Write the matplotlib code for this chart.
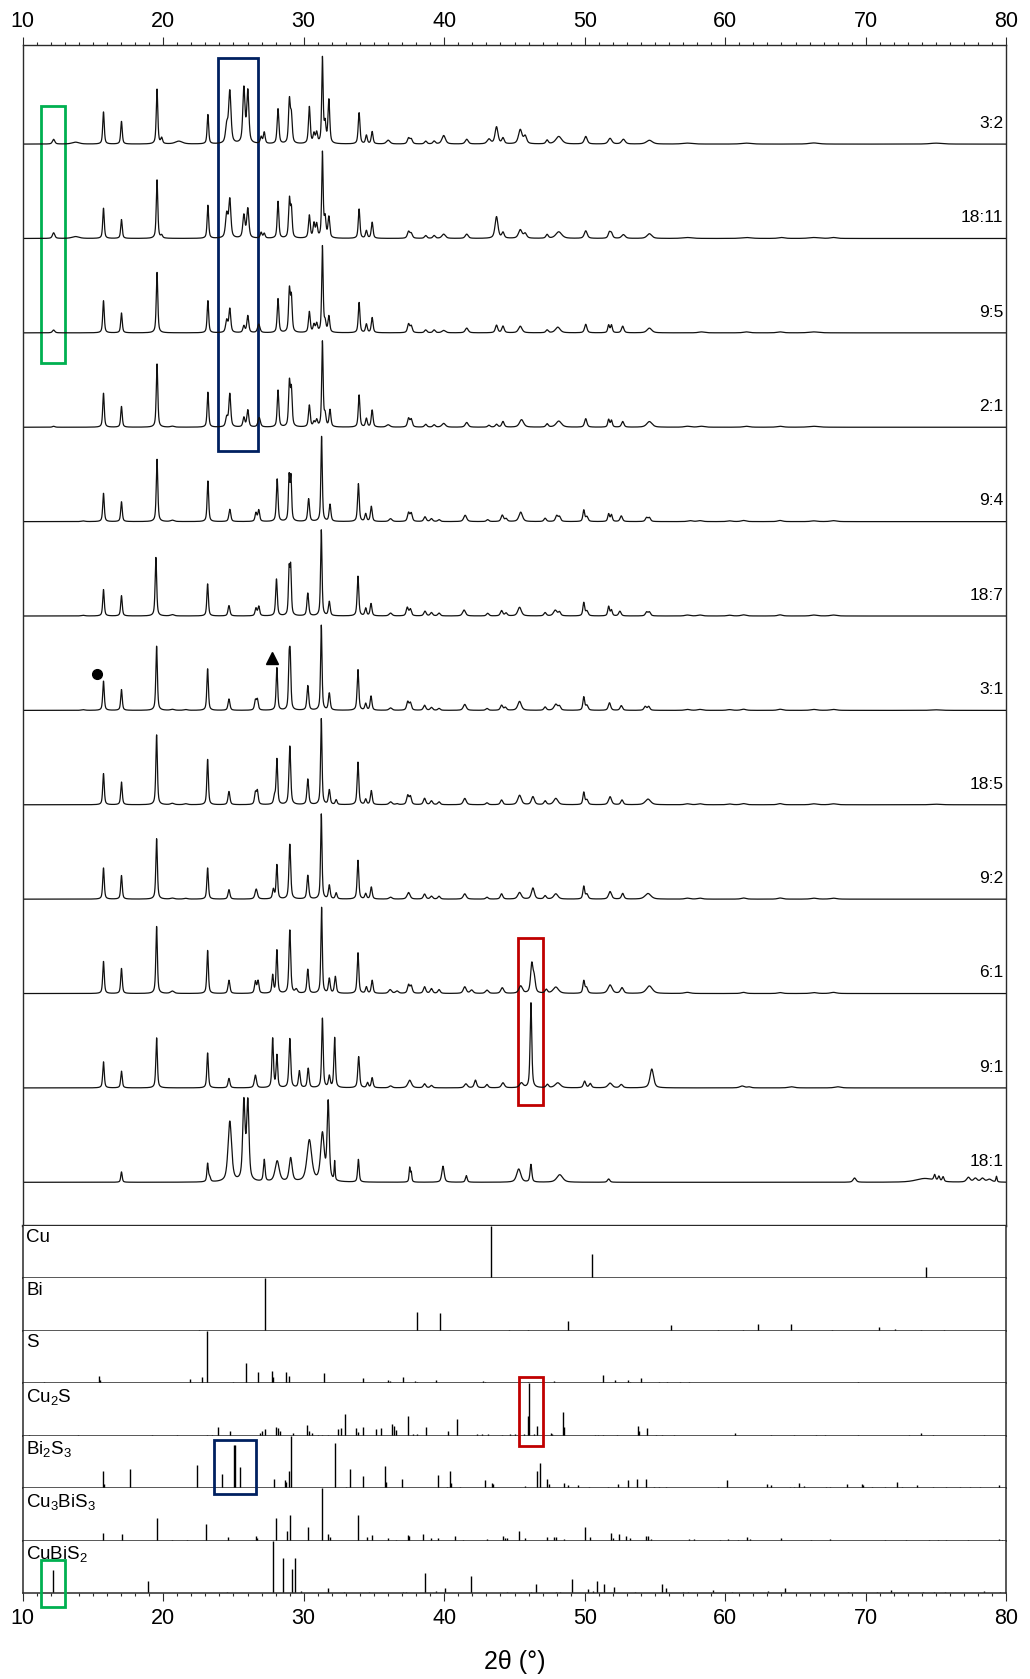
import numpy as np
import matplotlib
matplotlib.use('Agg')
import matplotlib.pyplot as plt
from matplotlib.patches import Rectangle
from matplotlib.transforms import blended_transform_factory

plt.rcParams['font.family'] = ['Liberation Sans', 'DejaVu Sans']
plt.rcParams['mathtext.default'] = 'regular'

# ---- measured patterns, top to bottom; peaks as (2theta, height, fwhm) ----
labels = ['3:2', '18:11', '9:5', '2:1', '9:4', '18:7', '3:1', '18:5', '9:2', '6:1', '9:1', '18:1']

p_3_2 = [(12.20, .05, .2), (13.76, .02, .6), (15.75, .34, .13), (17.03, .24, .13), (19.56, .58, .13),
         (19.89, .06, .15), (21.11, .03, .6), (23.18, .31, .13), (24.52, .18, .2), (24.74, .55, .2),
         (25.74, .58, .18), (26.02, .55, .18), (26.97, .07, .15), (27.19, .12, .15), (28.17, .37, .15),
         (28.98, .45, .15), (29.12, .28, .15), (30.40, .39, .15), (30.73, .10, .15), (30.92, .11, .15),
         (31.33, .90, .12), (31.52, .20, .15), (31.79, .46, .15), (33.94, .33, .15), (34.46, .09, .15),
         (34.87, .13, .15), (36.01, .04, .3), (37.46, .06, .2), (37.65, .05, .2), (38.68, .03, .2),
         (39.28, .03, .2), (39.96, .09, .3), (41.60, .05, .25), (43.18, .05, .3), (43.72, .18, .25),
         (44.18, .06, .2), (45.41, .15, .3), (45.76, .08, .25), (47.32, .04, .2), (48.15, .08, .5),
         (50.07, .08, .25), (51.80, .06, .3), (52.75, .05, .3), (54.60, .04, .5), (57.3, .01, .8),
         (61.5, .01, .8), (66.3, .012, .8), (75.0, .01, 1.0)]

p_18_11 = [(12.20, .06, .2), (13.76, .02, .6), (15.75, .32, .13), (17.03, .20, .13), (19.56, .62, .13),
           (19.89, .03, .15), (23.18, .35, .13), (24.52, .25, .2), (24.74, .40, .18), (25.74, .24, .18),
           (26.02, .31, .18), (26.97, .06, .15), (27.19, .05, .15), (28.17, .39, .14), (28.98, .40, .14),
           (29.12, .30, .14), (30.40, .24, .15), (30.73, .15, .15), (30.92, .14, .15), (31.33, .90, .12),
           (31.52, .20, .15), (31.79, .22, .15), (33.94, .31, .14), (34.46, .08, .15), (34.87, .17, .15),
           (37.46, .07, .2), (37.65, .05, .2), (38.68, .03, .2), (39.28, .03, .2), (39.96, .045, .3),
           (41.60, .045, .25), (43.72, .23, .25), (44.18, .06, .2), (45.41, .09, .3), (45.76, .05, .25),
           (47.32, .04, .2), (48.15, .07, .5), (50.07, .08, .25), (51.75, .06, .2), (51.90, .05, .2),
           (52.75, .04, .3), (54.60, .05, .4), (57.3, .01, .8), (61.5, .01, .8), (64.0, .01, .5),
           (66.3, .01, .8), (67.7, .01, .5)]

p_9_5 = [(12.20, .03, .2), (15.75, .34, .13), (17.03, .21, .13), (19.56, .64, .13), (23.18, .34, .13),
         (24.52, .13, .18), (24.74, .25, .16), (25.74, .07, .16), (26.02, .18, .16), (26.80, .09, .2),
         (28.17, .36, .14), (28.98, .44, .14), (29.12, .36, .14), (30.40, .22, .15), (30.73, .08, .15),
         (30.92, .09, .15), (31.33, .91, .12), (31.52, .10, .15), (31.79, .17, .15), (33.94, .32, .14),
         (34.46, .09, .15), (34.87, .16, .15), (37.46, .09, .18), (37.65, .07, .18), (38.68, .03, .2),
         (39.28, .03, .2), (39.96, .025, .3), (41.60, .05, .25), (43.72, .08, .2), (44.18, .07, .2),
         (45.41, .07, .3), (47.32, .03, .2), (48.08, .06, .4), (50.07, .09, .2), (51.70, .08, .15),
         (51.90, .08, .15), (52.70, .07, .2), (54.60, .05, .4), (58.3, .01, .5), (61.5, .01, .5),
         (63.9, .01, .5), (66.3, .01, .8)]

p_2_1 = [(12.20, .01, .2), (15.75, .36, .13), (17.03, .22, .13), (19.56, .67, .13), (20.65, .01, .3),
         (23.18, .37, .13), (24.52, .10, .18), (24.74, .35, .16), (25.74, .10, .16), (26.02, .18, .16),
         (26.83, .10, .2), (28.17, .39, .14), (28.98, .46, .14), (29.12, .38, .14), (30.40, .23, .15),
         (30.73, .05, .15), (30.92, .07, .15), (31.33, .90, .12), (31.52, .12, .15), (31.87, .18, .15),
         (33.94, .34, .14), (34.46, .09, .15), (34.87, .18, .15), (36.01, .025, .3), (37.46, .09, .18),
         (37.65, .08, .18), (38.68, .03, .2), (39.28, .025, .2), (39.96, .04, .3), (41.60, .05, .25),
         (43.18, .02, .2), (43.72, .03, .2), (44.18, .06, .2), (45.50, .08, .35), (47.32, .035, .2),
         (48.15, .065, .45), (50.07, .09, .2), (51.70, .08, .15), (51.90, .07, .15), (52.70, .06, .2),
         (54.60, .06, .45), (57.3, .01, .5), (58.3, .01, .5), (61.5, .01, .5), (63.9, .01, .5),
         (66.3, .01, .8)]

p_9_4 = [(14.30, .007, .3), (15.75, .30, .13), (17.03, .21, .13), (19.56, .66, .13), (20.65, .014, .3),
         (23.18, .43, .13), (24.74, .13, .16), (26.60, .09, .15), (26.80, .12, .15), (28.11, .45, .14),
         (28.96, .46, .12), (29.09, .45, .12), (30.35, .24, .15), (31.27, .90, .12), (31.87, .18, .15),
         (33.89, .40, .14), (34.41, .08, .15), (34.81, .16, .15), (36.18, .03, .25), (37.46, .09, .18),
         (37.65, .085, .18), (38.63, .05, .2), (39.09, .03, .2), (39.63, .02, .2), (41.49, .067, .25),
         (43.09, .02, .2), (44.13, .067, .2), (44.40, .03, .2), (45.44, .10, .3), (47.18, .035, .2),
         (48.00, .06, .2), (48.20, .05, .2), (49.93, .12, .15), (50.15, .05, .2), (51.70, .08, .15),
         (51.90, .07, .15), (52.60, .06, .2), (54.40, .04, .2), (54.60, .04, .2), (57.5, .01, .4),
         (58.2, .01, .4), (60.3, .008, .4), (61.3, .012, .4), (63.9, .012, .4), (66.3, .008, .5),
         (67.7, .01, .5)]

p_18_7 = [(14.30, .007, .3), (15.75, .28, .13), (17.03, .215, .13), (19.48, .62, .13), (20.65, .014, .3),
          (23.16, .34, .13), (24.68, .11, .16), (26.60, .08, .15), (26.80, .10, .15), (28.06, .39, .14),
          (28.96, .46, .12), (29.07, .48, .12), (30.29, .24, .15), (31.25, .91, .12), (31.82, .15, .15),
          (33.86, .42, .14), (34.41, .08, .15), (34.79, .13, .15), (36.18, .03, .25), (37.37, .088, .18),
          (37.59, .07, .18), (38.63, .05, .2), (39.09, .035, .2), (39.63, .03, .2), (41.41, .063, .25),
          (43.09, .028, .2), (44.08, .056, .2), (44.40, .03, .2), (45.36, .092, .3), (47.18, .035, .2),
          (47.90, .06, .3), (48.20, .04, .2), (49.93, .14, .15), (50.15, .05, .2), (51.70, .10, .15),
          (51.90, .06, .15), (52.50, .05, .2), (54.40, .04, .2), (54.60, .04, .2), (57.3, .01, .4),
          (58.2, .01, .4), (60.3, .008, .4), (61.3, .012, .4), (63.9, .012, .4), (66.3, .01, .5),
          (67.7, .01, .5)]

p_3_1 = [(14.30, .007, .3), (15.75, .31, .13), (17.03, .22, .13), (19.53, .68, .13), (20.65, .01, .3),
         (21.60, .008, .3), (23.16, .44, .13), (24.68, .12, .16), (26.56, .10, .15), (26.70, .11, .15),
         (28.09, .45, .13), (28.96, .46, .12), (29.04, .49, .12), (30.29, .26, .15), (31.25, .90, .12),
         (31.82, .18, .15), (33.86, .43, .14), (34.41, .07, .15), (34.79, .15, .15), (36.18, .025, .25),
         (37.40, .088, .18), (37.59, .077, .18), (38.60, .053, .2), (39.09, .03, .2), (39.63, .02, .2),
         (41.46, .063, .25), (43.04, .02, .2), (44.08, .053, .2), (44.35, .03, .2), (45.36, .095, .3),
         (47.18, .035, .2), (47.94, .063, .3), (48.20, .04, .2), (49.93, .14, .15), (50.15, .05, .2),
         (51.76, .08, .2), (52.60, .05, .2), (54.30, .04, .2), (54.55, .04, .2), (57.3, .01, .4),
         (58.2, .01, .4), (60.3, .008, .4), (61.3, .012, .4), (63.9, .012, .4), (66.3, .01, .5),
         (67.7, .01, .5), (75.0, .006, .8)]

p_18_5 = [(15.75, .33, .13), (17.03, .24, .13), (19.53, .74, .13), (20.65, .014, .3), (21.60, .01, .3),
          (23.16, .48, .13), (24.68, .14, .16), (26.56, .12, .15), (26.70, .14, .15), (27.92, .08, .15),
          (28.09, .48, .13), (29.01, .62, .15), (30.29, .27, .15), (31.25, .91, .12), (31.82, .155, .15),
          (32.31, .05, .15), (33.86, .45, .14), (34.41, .056, .15), (34.81, .148, .15), (36.18, .03, .25),
          (36.64, .01, .2), (37.40, .095, .18), (37.59, .085, .18), (38.60, .067, .2), (39.09, .04, .2),
          (39.63, .03, .2), (41.46, .067, .25), (43.04, .02, .2), (44.08, .05, .2), (45.36, .10, .3),
          (46.31, .085, .25), (47.18, .04, .2), (47.94, .067, .35), (49.93, .13, .15), (50.15, .05, .2),
          (51.80, .085, .25), (52.65, .05, .2), (54.50, .06, .45), (57.3, .01, .4), (58.2, .01, .4),
          (60.3, .008, .4), (61.3, .012, .4), (63.9, .012, .4), (66.3, .01, .5), (67.7, .01, .5),
          (75.0, .006, .8)]

p_9_2 = [(15.75, .33, .13), (17.03, .25, .13), (19.53, .64, .13), (20.65, .01, .3), (21.60, .008, .3),
         (23.16, .33, .13), (24.68, .10, .16), (26.62, .106, .2), (27.84, .10, .15), (28.09, .36, .13),
         (29.01, .58, .15), (30.29, .25, .15), (31.25, .90, .12), (31.82, .145, .15), (32.31, .064, .15),
         (33.86, .41, .14), (34.41, .056, .15), (34.81, .127, .15), (36.18, .02, .25), (37.46, .07, .25),
         (38.60, .053, .2), (39.09, .03, .2), (39.63, .03, .2), (41.46, .056, .25), (43.04, .02, .2),
         (44.08, .056, .2), (45.36, .07, .3), (46.31, .117, .25), (47.18, .035, .2), (47.94, .056, .35),
         (49.93, .134, .15), (50.15, .05, .2), (51.80, .08, .25), (52.70, .06, .2), (54.50, .06, .5),
         (57.3, .01, .4), (58.2, .01, .4), (61.3, .012, .4), (63.9, .012, .4), (66.3, .01, .5),
         (67.7, .01, .5)]

p_6_1 = [(15.75, .34, .13), (17.03, .265, .13), (19.53, .71, .13), (20.65, .025, .3), (23.16, .456, .13),
         (24.68, .14, .16), (26.56, .124, .15), (26.75, .13, .15), (27.79, .19, .13), (28.09, .456, .13),
         (29.01, .67, .15), (29.47, .04, .2), (30.29, .254, .15), (31.27, .91, .12), (31.82, .155, .15),
         (32.25, .177, .15), (33.86, .43, .14), (34.46, .067, .15), (34.87, .138, .15), (36.15, .04, .25),
         (36.64, .025, .25), (37.46, .088, .18), (37.65, .078, .18), (38.60, .07, .2), (39.09, .05, .2),
         (39.63, .04, .2), (41.46, .07, .25), (41.95, .035, .25), (43.04, .035, .25), (44.13, .06, .25),
         (45.44, .078, .3), (46.23, .30, .2), (46.40, .15, .2), (47.26, .04, .2), (47.94, .067, .45),
         (49.93, .13, .15), (50.12, .06, .2), (51.80, .09, .35), (52.65, .06, .25), (54.60, .08, .5),
         (57.3, .012, .5), (61.3, .012, .4), (63.9, .01, .4), (66.3, .01, .5), (67.7, .012, .5)]

p_9_1 = [(15.75, .276, .13), (17.03, .177, .13), (19.53, .53, .13), (23.16, .37, .13), (24.68, .10, .16),
         (26.56, .134, .18), (27.79, .52, .13), (28.09, .34, .13), (29.01, .52, .15), (29.69, .177, .15),
         (30.32, .205, .15), (31.33, .735, .13), (31.82, .12, .15), (32.20, .53, .13), (33.91, .33, .15),
         (34.54, .053, .15), (34.87, .106, .15), (36.18, .02, .25), (37.54, .081, .3), (38.60, .042, .2),
         (39.09, .025, .2), (41.54, .042, .25), (42.22, .081, .2), (43.04, .035, .2), (44.18, .053, .25),
         (45.49, .05, .3), (46.17, .90, .14), (47.34, .035, .2), (48.08, .053, .45), (49.99, .07, .2),
         (50.39, .045, .2), (51.80, .05, .35), (52.60, .035, .25), (54.77, .20, .3), (61.2, .02, .4),
         (61.7, .01, .3), (64.7, .012, .5), (68.0, .012, .5)]

p_18_1 = [(17.03, .11, .12), (23.16, .19, .12), (23.30, .05, .15), (24.74, .64, .3), (25.74, .83, .2),
          (26.02, .83, .2), (27.19, .23, .14), (28.11, .22, .35), (29.07, .25, .25), (30.40, .44, .4),
          (31.33, .50, .3), (31.74, .83, .18), (32.20, .20, .08), (33.89, .24, .13), (37.54, .15, .1),
          (37.65, .10, .1), (39.91, .17, .2), (41.57, .07, .15), (45.30, .14, .35), (46.17, .187, .15),
          (48.22, .08, .5), (51.70, .035, .2), (69.2, .045, .25), (74.2, .04, 1.5), (74.9, .06, .15),
          (75.2, .05, .15), (75.5, .05, .15), (77.3, .05, .3), (77.8, .04, .3), (78.3, .04, .3),
          (78.8, .03, .4), (79.3, .06, .1)]

patterns = [p_3_2, p_18_11, p_9_5, p_2_1, p_9_4, p_18_7, p_3_1, p_18_5, p_9_2, p_6_1, p_9_1, p_18_1]

# ---- reference stick patterns (2theta, relative intensity) ----
ref_names = ['Cu', 'Bi', 'S', 'Cu$_2$S', 'Bi$_2$S$_3$', 'Cu$_3$BiS$_3$', 'CuBiS$_2$']

cu_pos = [43.35, 50.55, 74.30]
cu_int = [1.0, 0.46, 0.22]

bi_pos = [22.55, 27.22, 38.04, 39.70, 44.64, 45.94, 48.83, 56.17, 59.49, 61.29, 62.33, 64.66, 67.62,
          70.97, 72.07, 73.93, 75.54]
bi_int = [.01, 1.0, .36, .35, .01, .02, .18, .11, .01, .01, .13, .14, .01, .08, .03, .01, .01]

s_pos = [11.52, 15.43, 15.50, 18.47, 21.91, 22.74, 23.09, 24.99, 25.89, 26.41, 26.77, 27.77, 27.84,
         28.72, 28.98, 31.44, 33.34, 34.20, 34.96, 35.98, 36.14, 37.09, 37.92, 38.04, 39.42, 42.78,
         42.90, 44.68, 45.65, 45.94, 46.38, 47.82, 50.10, 51.31, 52.15, 53.11, 53.23, 54.03, 55.28,
         55.88, 56.79, 57.44, 57.68, 60.33, 61.77, 63.22, 64.90, 65.74, 67.55, 69.47, 72.48, 73.93, 75.97]
s_int = [.02, .14, .06, .01, .09, .13, 1.0, .03, .38, .01, .22, .24, .12, .22, .15, .19, .01, .10, .01,
         .06, .04, .12, .04, .03, .06, .05, .03, .01, .01, .02, .01, .05, .01, .16, .07, .06, .03, .10,
         .02, .02, .02, .02, .01, .01, .01, .01, .01, .01, .01, .02, .01, .01, .01]

cu2s_pos = [10.47, 13.96, 19.18, 20.96, 23.09, 23.45, 23.88, 24.75, 26.89, 27.06, 27.25, 28.03, 28.19,
            28.31, 29.26, 30.26, 30.38, 30.57, 31.04, 31.28, 31.75, 32.46, 32.63, 32.94, 33.70, 33.89,
            34.24, 35.12, 35.48, 36.26, 36.45, 36.57, 37.45, 37.80, 38.04, 38.68, 40.29, 40.89, 42.31,
            42.67, 43.14, 44.09, 44.68, 45.04, 45.65, 45.94, 46.01, 46.38, 46.62, 47.58, 47.70, 48.42,
            48.54, 50.71, 50.95, 51.31, 52.27, 53.76, 53.88, 54.44, 55.04, 55.52, 56.36, 60.69, 63.22,
            64.90, 66.47, 67.07, 69.47, 73.08, 73.93, 74.77, 78.38]
cu2s_int = [.01, .02, .01, .01, .02, .02, .16, .10, .06, .10, .14, .17, .15, .10, .05, .20, .10, .05,
            .02, .02, .02, .14, .15, .42, .15, .08, .17, .13, .15, .23, .18, .12, .37, .03, .03, .16,
            .10, .33, .03, .03, .03, .02, .03, .03, .04, .38, 1.0, .03, .19, .06, .04, .45, .17, .02,
            .02, .02, .01, .18, .10, .15, .01, .01, .01, .05, .01, .01, .01, .01, .01, .01, .06, .01, .01]

bi2s3_pos = [11.18, 15.74, 15.81, 17.64, 22.43, 24.21, 25.06, 25.13, 25.49, 27.89, 28.67, 28.74, 28.98,
             29.07, 32.23, 32.99, 33.27, 33.89, 34.24, 35.79, 35.86, 36.97, 39.53, 40.17, 40.41, 40.48,
             41.12, 42.90, 43.38, 43.50, 45.77, 46.62, 46.79, 47.29, 47.46, 48.54, 48.78, 49.55, 50.27,
             51.67, 52.34, 53.06, 53.71, 54.36, 54.92, 55.28, 55.76, 58.41, 59.49, 60.14, 62.98, 63.22,
             64.59, 64.90, 65.26, 65.62, 67.19, 67.43, 68.63, 69.71, 69.83, 70.44, 71.40, 72.19, 72.60,
             73.68, 74.77, 75.73, 76.69, 77.41, 78.14, 79.46]
bi2s3_int = [.01, .33, .08, .36, .45, .28, .83, .83, .41, .18, .15, .12, .34, 1.0, .87, .02, .36, .01,
             .23, .43, .12, .17, .25, .02, .34, .10, .02, .16, .10, .09, .05, .33, .49, .17, .08, .10,
             .07, .07, .02, .02, .08, .16, .17, .17, .02, .02, .02, .01, .02, .15, .09, .06, .02, .03,
             .10, .05, .03, .03, .09, .08, .06, .02, .02, .13, .02, .06, .02, .02, .02, .03, .02, .06]

cu3bis3_pos = [15.74, 17.09, 19.53, 20.60, 21.67, 23.05, 24.59, 26.58, 26.65, 28.03, 28.83, 29.02, 30.28,
               31.28, 31.75, 31.87, 33.84, 34.48, 34.84, 35.98, 36.55, 37.40, 37.49, 38.47, 39.06, 39.58,
               40.77, 41.36, 43.02, 44.16, 44.33, 44.45, 45.29, 45.77, 47.34, 47.82, 47.94, 48.49, 49.99,
               50.35, 51.84, 51.98, 52.44, 52.92, 53.23, 54.36, 54.48, 54.72, 57.44, 57.80, 59.61, 60.21,
               60.93, 61.53, 61.77, 63.99, 66.11, 67.43, 71.40, 72.84, 74.53, 75.13, 75.73, 77.29, 79.46,
               79.70]
cu3bis3_int = [.14, .13, .44, .01, .01, .33, .08, .10, .06, .43, .18, .49, .27, 1.0, .13, .08, .49, .07,
               .12, .05, .02, .12, .10, .13, .05, .05, .10, .02, .04, .10, .06, .06, .19, .05, .08, .08,
               .08, .03, .26, .08, .14, .05, .13, .10, .05, .09, .10, .04, .03, .03, .02, .03, .02, .08,
               .03, .06, .02, .03, .02, .02, .02, .02, .02, .02, .03, .02]

cubis2_pos = [12.18, 18.94, 24.52, 27.79, 28.55, 29.14, 29.36, 29.81, 31.71, 32.89, 34.65, 37.09, 37.28,
              38.63, 39.39, 40.06, 41.88, 44.45, 46.14, 46.50, 47.94, 48.25, 49.10, 50.23, 50.59, 50.88,
              51.36, 52.08, 53.59, 55.47, 55.81, 56.96, 57.32, 59.13, 60.45, 63.03, 64.25, 68.75, 70.80,
              71.76, 74.05, 74.89, 75.61, 78.38, 79.58]
cubis2_int = [.44, .24, .03, 1.0, .68, .46, .68, .05, .10, .02, .02, .02, .02, .38, .04, .11, .33, .02,
              .02, .17, .02, .02, .27, .08, .04, .23, .17, .12, .02, .17, .11, .02, .02, .07, .02, .04,
              .11, .03, .03, .07, .03, .02, .02, .04, .03]

ref_pos = [cu_pos, bi_pos, s_pos, cu2s_pos, bi2s3_pos, cu3bis3_pos, cubis2_pos]
ref_int = [cu_int, bi_int, s_int, cu2s_int, bi2s3_int, cu3bis3_int, cubis2_int]


def profile(x, peaks):
    # pseudo-Voigt peaks
    y = np.zeros_like(x)
    for c, h, w in peaks:
        d = (x - c) / (w / 2.0)
        y += h * (0.6 / (1 + d ** 2) + 0.4 * np.exp(-np.log(2) * d ** 2))
    return y


W, H = 1030, 1679
fig = plt.figure(figsize=(W / 100, H / 100), dpi=100)

x_left, x_right = 22.7, 1006.3
main_top, main_bot = 45, 1226
panel_h = 52.47
spine_c = '#2a2a2a'

ax = fig.add_axes([x_left / W, 1 - main_bot / H, (x_right - x_left) / W, (main_bot - main_top) / H])
ax.set_xlim(10, 80)
ax.set_ylim(-0.463, 12.05)

x = np.linspace(10, 80, 14001)
n = len(patterns)
lab_tr = blended_transform_factory(ax.transAxes, ax.transData)
for i, (lab, peaks) in enumerate(zip(labels, patterns)):
    level = n - 1 - i
    ax.plot(x, profile(x, peaks) + level, color='#111111', lw=0.9)
    ax.text(0.9972, level + 0.22, lab, transform=lab_tr, ha='right', va='center', fontsize=12.5)

# markers on the 3:1 pattern
ax.plot([15.32], [5 + 0.386], 'o', color='black', ms=7)
ax.plot([27.74], [5 + 0.556], '^', color='black', ms=8)

ax.xaxis.tick_top()
ax.set_xticks(np.arange(10, 81, 10))
ax.set_xticks(np.arange(10, 81, 1), minor=True)
ax.tick_params(axis='x', which='major', direction='out', length=5.8, width=0.8, labelsize=15.5, pad=3.5,
               color=spine_c)
ax.tick_params(axis='x', which='minor', direction='out', length=2.4, width=0.8, color=spine_c)
ax.set_yticks([])
for sp in ax.spines.values():
    sp.set_color(spine_c)
    sp.set_linewidth(1.0)
ax.spines['bottom'].set_linewidth(1.7)

# highlight boxes in the main panel
ax.add_patch(Rectangle((11.33, 8.68), 13.01 - 11.33, 11.406 - 8.68, fill=False, ec='#00B050', lw=2.0))
ax.add_patch(Rectangle((23.88, 7.751), 26.77 - 23.88, 11.915 - 7.751, fill=False, ec='#002060', lw=2.0))
ax.add_patch(Rectangle((45.27, 0.82), 47.03 - 45.27, 2.589 - 0.82, fill=False, ec='#C00000', lw=2.0))

ref_axes = []
for j, (name, pos, inten) in enumerate(zip(ref_names, ref_pos, ref_int)):
    top = main_bot + j * panel_h
    rax = fig.add_axes([x_left / W, 1 - (top + panel_h) / H, (x_right - x_left) / W, panel_h / H],
                       sharex=ax)
    rax.vlines(pos, 0, inten, color='black', lw=1.0)
    rax.set_ylim(0, 1.0)
    rax.set_yticks([])
    rax.text(3.5 / (x_right - x_left), 1 - 3.5 / panel_h, name, transform=rax.transAxes,
             ha='left', va='top', fontsize=13.5)
    for sp in rax.spines.values():
        sp.set_color(spine_c)
        sp.set_linewidth(1.1)
    rax.spines['top'].set_visible(False)
    if j < len(ref_names) - 1:
        rax.tick_params(axis='x', which='both', bottom=False, top=False, labelbottom=False, labeltop=False)
    else:
        rax.tick_params(axis='x', which='both', bottom=True, top=False, labelbottom=True, labeltop=False)
        rax.tick_params(axis='x', which='major', direction='out', length=5.8, width=0.8, labelsize=15.5,
                        pad=5, color=spine_c)
        rax.tick_params(axis='x', which='minor', direction='out', length=2.4, width=0.8, color=spine_c)
    ref_axes.append(rax)

# boxes on the reference panels (x in data, y in figure pixels)
def fig_box(axis, x0, x1, y_top, y_bot, color):
    tr = blended_transform_factory(axis.transData, fig.transFigure)
    r = Rectangle((x0, 1 - y_bot / H), x1 - x0, (y_bot - y_top) / H, fill=False, ec=color, lw=2.0,
                  transform=tr)
    fig.add_artist(r)

fig_box(ref_axes[3], 45.30, 47.03, 1377, 1446, '#C00000')
fig_box(ref_axes[4], 23.64, 26.58, 1440, 1494, '#002060')
fig_box(ref_axes[6], 11.33, 13.01, 1560, 1606.7, '#00B050')

fig.text(514.5 / W, 1 - 1662 / H, '2θ (°)', ha='center', va='center', fontsize=18)

fig.savefig('out.png', dpi=100)
